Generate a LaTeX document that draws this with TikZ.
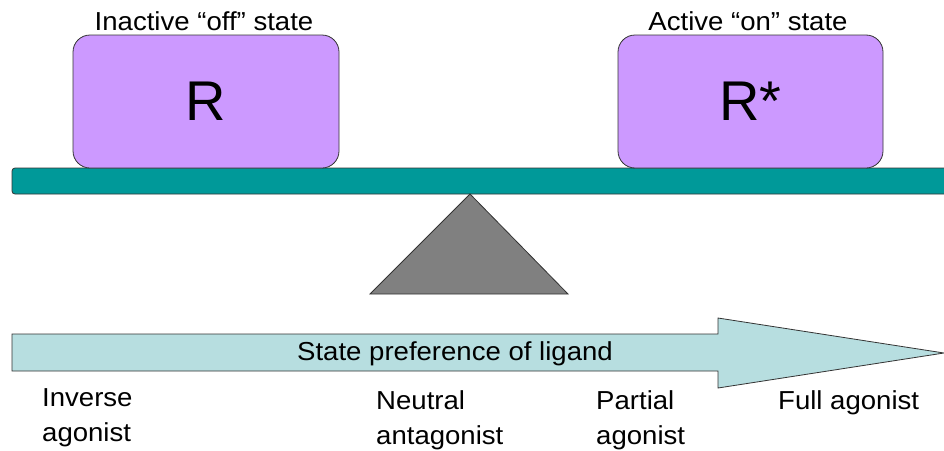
\documentclass[tikz,border=0pt]{standalone}
\usepackage{fontspec}
\setmainfont{Liberation Sans}
\newfontfamily\widesans[FakeStretch=1.06]{Liberation Sans}
\begin{document}
\begin{tikzpicture}[x=1pt,y=-1pt,
  statebox/.style={draw=black!80,line width=0.8pt,fill=boxpurple,rounded corners=17pt,
    minimum width=266pt,minimum height=133pt,inner sep=0pt,font=\fontsize{56}{60}\selectfont},
  lbl/.style={font=\widesans\fontsize{26}{35}\selectfont,inner sep=0pt},
  lbll/.style={lbl,anchor=north west,align=left}]
\definecolor{boxpurple}{RGB}{204,153,255}
\definecolor{beamteal}{RGB}{0,153,153}
\definecolor{arrowfill}{RGB}{183,222,224}
\definecolor{fulcrum}{RGB}{128,128,128}
\useasboundingbox (0,0) rectangle (944,450);
% beam
\draw[draw=black!80,line width=0.8pt,fill=beamteal,rounded corners=3pt] (12,168) rectangle (950,194);
% boxes
\node[statebox] (R) at (206,101.5) {R};
\node[statebox,minimum width=265pt] (Rs) at (750.5,101.5) {R*};
\node[lbl] (Rlab) at (204,21) {Inactive “off” state};
\node[lbl] (Rslab) at (748,21) {Active “on” state};
% fulcrum
\coordinate (apex) at (470,194);
\coordinate (bl) at (370,294);
\coordinate (br) at (568,294);
\draw[draw=black!80,line width=0.8pt,fill=fulcrum] (apex) -- (br) -- (bl) -- cycle;
% arrow
\draw[draw=black!80,line width=0.8pt,fill=arrowfill]
  (12,334) -- (718,334) -- (718,318) -- (944,353) -- (718,388) -- (718,371) -- (12,371) -- cycle;
\node[lbl] (pref) at (455,354) {State preference of ligand};
% labels
\node[lbll] (inv) at (42,388) {Inverse\\agonist};
\node[lbll] (neu) at (376,390) {Neutral\\antagonist};
\node[lbll] (par) at (596,390) {Partial\\agonist};
\node[lbll] (full) at (778,390) {Full agonist};
\end{tikzpicture}
\end{document}
